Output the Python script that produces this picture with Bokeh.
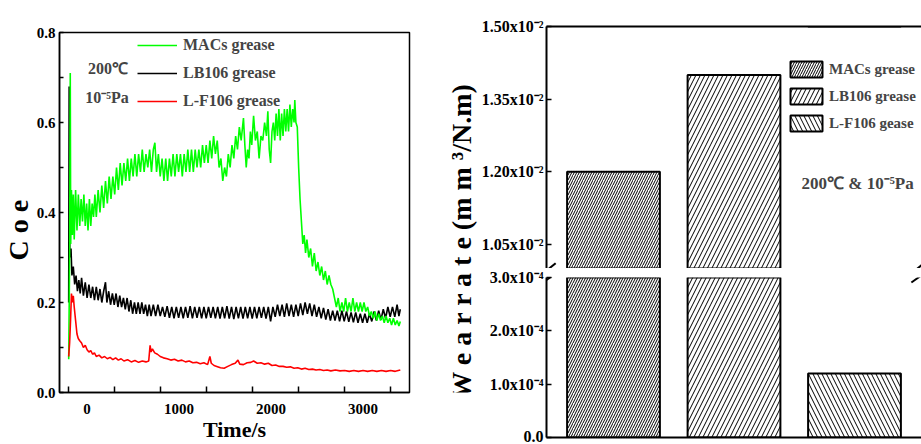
import math
from bokeh.plotting import figure
from bokeh.models import (Range1d, FixedTicker, Label, Arrow, Legend, LegendItem, Title,
                          ColumnDataSource, FactorRange, CategoricalAxis, NumeralTickFormatter)
from bokeh.core.properties import value
from bokeh.layouts import row, column
from bokeh.embed import file_html
from bokeh.resources import INLINE

FONT = "Liberation Serif"

# ---------------- left panel data: friction coefficient vs time ----------------
mac_t = [-200, -190, -183, -178, -170, -160, -150, -140, -125, -110, -95, -80, -65, -50, -35, -20, -5,
         10, 25, 40, 55, 70, 85, 100, 120, 140, 160, 180, 200, 220, 240, 260, 280, 300, 320, 340, 360,
         380, 400, 420, 440, 460, 480, 500, 520, 540, 560, 580, 600, 620, 640, 660, 680, 700, 720, 737,
         755, 775, 795, 815, 835, 855, 875, 895, 915, 935, 955, 975, 995, 1015, 1035, 1055, 1075, 1095,
         1115, 1135, 1155, 1175, 1195, 1215, 1235, 1255, 1275, 1295, 1315, 1335, 1355, 1375, 1395, 1415,
         1435, 1455, 1475, 1495, 1515, 1535, 1555, 1575, 1595, 1615, 1635, 1655, 1675, 1700, 1715, 1730,
         1745, 1760, 1775, 1790, 1810, 1830, 1850, 1870, 1890, 1910, 1930, 1950, 1965, 1980, 1995, 2010,
         2025, 2040, 2055, 2070, 2085, 2100, 2115, 2130, 2145, 2160, 2175, 2190, 2205, 2220, 2235, 2250,
         2258, 2270, 2285, 2300, 2315, 2330, 2345, 2360, 2375, 2390, 2410, 2430, 2450, 2470, 2490, 2510,
         2530, 2550, 2570, 2590, 2610, 2630, 2650, 2670, 2690, 2710, 2730, 2750, 2770, 2790, 2810, 2830,
         2850, 2870, 2890, 2910, 2930, 2950, 2970, 2990, 3010, 3030, 3050, 3070, 3090, 3110, 3130, 3150,
         3170, 3190, 3210, 3230, 3250, 3270, 3290, 3310, 3330, 3350, 3370, 3390, 3405]
mac_v = [0.074, 0.30, 0.71, 0.33, 0.45, 0.35, 0.44, 0.34, 0.45, 0.36, 0.44, 0.37, 0.43, 0.38, 0.44, 0.37, 0.42,
         0.36, 0.43, 0.37, 0.42, 0.39, 0.44, 0.39, 0.45, 0.40, 0.46, 0.41, 0.47, 0.42, 0.48, 0.43, 0.48, 0.44,
         0.50, 0.45, 0.51, 0.46, 0.51, 0.47, 0.52, 0.47, 0.52, 0.48, 0.53, 0.48, 0.53, 0.49, 0.54, 0.49, 0.53,
         0.50, 0.54, 0.49, 0.54, 0.555, 0.49, 0.53, 0.48, 0.52, 0.47, 0.52, 0.47, 0.52, 0.48, 0.53, 0.48, 0.53,
         0.49, 0.53, 0.48, 0.53, 0.49, 0.54, 0.49, 0.54, 0.49, 0.54, 0.50, 0.54, 0.50, 0.55, 0.51, 0.55, 0.51,
         0.56, 0.52, 0.57, 0.53, 0.56, 0.50, 0.52, 0.47, 0.50, 0.48, 0.53, 0.50, 0.55, 0.52, 0.57, 0.54, 0.59,
         0.56, 0.61, 0.55, 0.50, 0.54, 0.52, 0.58, 0.55, 0.615, 0.56, 0.58, 0.52, 0.57, 0.56, 0.60, 0.57, 0.625,
         0.54, 0.51, 0.58, 0.60, 0.56, 0.62, 0.57, 0.63, 0.56, 0.62, 0.57, 0.63, 0.58, 0.63, 0.58, 0.64, 0.59,
         0.63, 0.60, 0.65, 0.60, 0.59, 0.50, 0.43, 0.38, 0.33, 0.35, 0.31, 0.34, 0.30, 0.32, 0.28, 0.31, 0.27,
         0.29, 0.26, 0.28, 0.25, 0.27, 0.24, 0.26, 0.24, 0.23, 0.21, 0.19, 0.21, 0.18, 0.20, 0.18, 0.21, 0.18,
         0.20, 0.18, 0.21, 0.18, 0.20, 0.18, 0.20, 0.18, 0.20, 0.18, 0.19, 0.17, 0.18, 0.165, 0.18, 0.16, 0.175,
         0.16, 0.17, 0.155, 0.17, 0.155, 0.165, 0.15, 0.165, 0.15, 0.16, 0.148, 0.158]

lb_t = [-200, -195, -188, -175, -165, -150, -135, -120, -105, -90, -75, -60, -40, -20, 0, 20, 40, 60, 80,
        100, 120, 140, 160, 180, 200, 215, 235, 255, 275, 295, 315, 335, 355, 375, 395, 415, 435, 455, 475,
        495, 515, 535, 555, 575, 595, 615, 635, 655, 675, 695, 720, 745, 770, 795, 820, 845, 870, 895, 920,
        945, 970, 995, 1020, 1045, 1070, 1095, 1120, 1145, 1170, 1195, 1220, 1245, 1270, 1295, 1320, 1345,
        1370, 1395, 1420, 1445, 1470, 1495, 1520, 1545, 1570, 1595, 1620, 1645, 1670, 1695, 1720, 1745,
        1770, 1795, 1820, 1845, 1870, 1895, 1920, 1945, 1970, 1995, 2020, 2045, 2070, 2095, 2120, 2145,
        2170, 2195, 2220, 2245, 2270, 2295, 2320, 2345, 2370, 2395, 2420, 2445, 2470, 2495, 2520, 2545,
        2570, 2595, 2620, 2645, 2670, 2695, 2720, 2745, 2770, 2795, 2820, 2845, 2870, 2895, 2920, 2945,
        2970, 2995, 3020, 3045, 3070, 3095, 3120, 3145, 3170, 3195, 3220, 3245, 3270, 3295, 3320, 3345,
        3370, 3390, 3405]
lb_v = [0.20, 0.68, 0.30, 0.32, 0.26, 0.28, 0.24, 0.26, 0.225, 0.25, 0.22, 0.255, 0.215, 0.245, 0.21, 0.24,
        0.21, 0.235, 0.205, 0.235, 0.205, 0.23, 0.20, 0.225, 0.245, 0.20, 0.225, 0.195, 0.22, 0.195, 0.22,
        0.19, 0.215, 0.19, 0.21, 0.185, 0.21, 0.18, 0.205, 0.175, 0.20, 0.175, 0.20, 0.175, 0.20, 0.175,
        0.195, 0.17, 0.195, 0.17, 0.195, 0.17, 0.195, 0.17, 0.19, 0.168, 0.192, 0.166, 0.19, 0.165, 0.19,
        0.166, 0.19, 0.165, 0.19, 0.166, 0.192, 0.165, 0.19, 0.166, 0.19, 0.165, 0.19, 0.165, 0.19, 0.166,
        0.19, 0.165, 0.19, 0.164, 0.19, 0.165, 0.192, 0.164, 0.19, 0.163, 0.19, 0.165, 0.19, 0.164, 0.19,
        0.165, 0.19, 0.164, 0.19, 0.165, 0.19, 0.166, 0.19, 0.164, 0.19, 0.158, 0.19, 0.168, 0.195, 0.17,
        0.195, 0.168, 0.198, 0.17, 0.195, 0.168, 0.195, 0.17, 0.198, 0.172, 0.20, 0.175, 0.198, 0.17, 0.195,
        0.168, 0.19, 0.165, 0.188, 0.162, 0.185, 0.16, 0.182, 0.16, 0.182, 0.158, 0.182, 0.158, 0.18, 0.157,
        0.178, 0.156, 0.178, 0.155, 0.175, 0.155, 0.175, 0.155, 0.175, 0.158, 0.18, 0.16, 0.182, 0.162,
        0.185, 0.165, 0.19, 0.168, 0.19, 0.168, 0.195, 0.17, 0.185]

lf_t = [-200, -190, -180, -170, -160, -150, -140, -125, -110, -96, -80, -60, -40, -20, 0, 20, 40, 60, 80,
        100, 130, 160, 190, 220, 250, 280, 310, 340, 370, 400, 440, 480, 520, 560, 600, 640, 670, 685, 695,
        710, 735, 765, 795, 830, 870, 910, 950, 990, 1030, 1070, 1110, 1150, 1190, 1230, 1270, 1310, 1335,
        1350, 1380, 1410, 1450, 1490, 1530, 1570, 1610, 1640, 1660, 1700, 1740, 1780, 1810, 1850, 1890,
        1930, 1970, 2010, 2050, 2090, 2130, 2170, 2210, 2250, 2290, 2330, 2370, 2410, 2450, 2490, 2530,
        2570, 2610, 2650, 2700, 2750, 2800, 2850, 2900, 2950, 3000, 3050, 3100, 3150, 3200, 3250, 3300,
        3350, 3405]
lf_v = [0.08, 0.11, 0.16, 0.22, 0.20, 0.215, 0.19, 0.16, 0.13, 0.12, 0.115, 0.11, 0.10, 0.105, 0.095, 0.09,
        0.093, 0.085, 0.088, 0.08, 0.083, 0.077, 0.08, 0.075, 0.078, 0.073, 0.077, 0.072, 0.075, 0.07, 0.073,
        0.068, 0.071, 0.067, 0.07, 0.068, 0.07, 0.105, 0.09, 0.097, 0.088, 0.085, 0.08, 0.077, 0.075, 0.072,
        0.074, 0.07, 0.072, 0.068, 0.07, 0.066, 0.067, 0.064, 0.066, 0.062, 0.08, 0.065, 0.06, 0.058, 0.055,
        0.054, 0.058, 0.062, 0.065, 0.072, 0.063, 0.062, 0.066, 0.067, 0.07, 0.065, 0.066, 0.063, 0.065,
        0.06, 0.061, 0.058, 0.058, 0.056, 0.057, 0.054, 0.055, 0.052, 0.054, 0.051, 0.052, 0.05, 0.051,
        0.049, 0.05, 0.048, 0.05, 0.048, 0.049, 0.047, 0.049, 0.047, 0.049, 0.047, 0.049, 0.047, 0.049,
        0.047, 0.049, 0.047, 0.05]

x_tick_values = [0, 1000, 2000, 3000]
x_minor_ticks = [-200, 300, 800, 1300, 1800, 2300, 2800, 3300]
y_tick_values = [0.0, 0.2, 0.4, 0.6, 0.8]
y_minor_ticks = [0.1, 0.3, 0.5, 0.7]

# ---------------- right panel data: wear rate ----------------
greases = ["MACs grease", "LB106 grease", "L-F106 gease"]
wear_rate = [1.20e-2, 1.40e-2, 1.2e-4]
upper_ticks = [0.0105, 0.012, 0.0135, 0.015]
upper_tick_labels = ["1.05x10\u207b\u00b2", "1.20x10\u207b\u00b2", "1.35x10\u207b\u00b2", "1.50x10\u207b\u00b2"]
lower_ticks = [0.0, 0.0001, 0.0002, 0.0003]
lower_tick_labels = ["0.0", "1.0x10\u207b\u2074", "2.0x10\u207b\u2074", "3.0x10\u207b\u2074"]
wear_title = "W e a r  r a t e (m m \u00b3/N.m)"

# styles (kept apart from the data)
hatch_patterns = ["/", "/", "\\"]
hatch_scales = [5, 9, 9]


def style_text_axis(ax, size="15px"):
    ax.major_label_text_font = FONT
    ax.major_label_text_font_style = "bold"
    ax.major_label_text_font_size = size
    ax.major_label_text_color = "black"
    ax.axis_label_text_font = FONT
    ax.axis_label_text_font_style = "bold"
    ax.axis_label_text_color = "black"


# ================= left figure =================
left = figure(width=436, height=444, x_range=Range1d(-300, 3505), y_range=Range1d(0, 0.8),
              output_backend="svg", toolbar_location=None,
              min_border_left=59, min_border_right=27, min_border_top=32, min_border_bottom=52)
left.xgrid.visible = False
left.ygrid.visible = False
left.outline_line_color = "black"
left.outline_line_width = 1.5
left.background_fill_color = "white"
left.border_fill_color = "white"

rb = left.line(lb_t, lb_v, line_color="black", line_width=1.6)
rg = left.line(mac_t, mac_v, line_color="#00ff00", line_width=1.6)
rr = left.line(lf_t, lf_v, line_color="#ff0000", line_width=1.6)

xa = left.xaxis[0]
xa.ticker = FixedTicker(ticks=x_tick_values, minor_ticks=x_minor_ticks)
xa.major_tick_in = 0
xa.major_tick_out = 0
xa.minor_tick_in = 6
xa.minor_tick_out = 0
xa.minor_tick_line_width = 1.5
xa.axis_line_width = 1.5
xa.major_label_standoff = 11
xa.axis_label = "Time/s"
xa.axis_label_standoff = 0
style_text_axis(xa)
xa.axis_label_text_font_size = "22px"

ya = left.yaxis[0]
ya.ticker = FixedTicker(ticks=y_tick_values, minor_ticks=y_minor_ticks)
ya.formatter = NumeralTickFormatter(format="0.0")
ya.major_tick_in = 4
ya.major_tick_out = 0
ya.minor_tick_in = 4
ya.minor_tick_out = 0
ya.major_tick_line_width = 1.5
ya.minor_tick_line_width = 1.5
ya.axis_line_width = 1.5
ya.major_label_standoff = 4
style_text_axis(ya)

left.add_layout(Title(text="C o e", align="left", offset=132, standoff=0, text_font=FONT,
                      text_font_style="bold", text_font_size="28px", text_color="black"), "left")

left_legend = Legend(items=[LegendItem(label="MACs grease", renderers=[rg]),
                            LegendItem(label="LB106 grease", renderers=[rb]),
                            LegendItem(label="L-F106 grease", renderers=[rr])],
                     location=(78, 281), glyph_width=40, glyph_height=20, label_height=20,
                     label_standoff=6, spacing=8, padding=0, margin=0,
                     border_line_alpha=0, background_fill_alpha=0,
                     label_text_font=FONT, label_text_font_style="bold", label_text_font_size="16px")
left.add_layout(left_legend)

left.add_layout(Label(x=227, y=0.721, text="200\u2103", text_align="center", text_baseline="middle",
                      text_font=FONT, text_font_style="bold", text_font_size="16px"))
left.add_layout(Label(x=216, y=0.656, text="10\u207b\u2075Pa", text_align="center", text_baseline="middle",
                      text_font=FONT, text_font_style="bold", text_font_size="16px"))

# ================= strip holding the right panel's y-axis title =================
title_strip = figure(width=42, height=444, x_range=Range1d(0, 1), y_range=Range1d(0, 444),
                     output_backend="svg", toolbar_location=None, x_axis_location=None,
                     y_axis_location=None, min_border=0)
title_strip.outline_line_color = None
title_strip.xgrid.visible = False
title_strip.ygrid.visible = False
title_strip.text(x=[0.6], y=[191], text=[wear_title], angle=math.pi / 2, text_align="center",
                 text_baseline="alphabetic", text_font=value(FONT), text_font_style="bold",
                 text_font_size="28px", text_color="black")

# ================= right panel (broken y axis: two stacked frames) =================
full_src = ColumnDataSource(dict(grease=greases, rate=wear_rate, pattern=hatch_patterns, scale=hatch_scales))


def bar_fig(height, yr, top, bottom):
    f = figure(width=443, height=height, x_range=FactorRange(*greases, range_padding=0.056,
                                                              range_padding_units="absolute"),
               y_range=yr, output_backend="svg", toolbar_location=None, x_axis_location=None,
               min_border_left=64, min_border_right=0, min_border_top=top, min_border_bottom=bottom)
    f.xgrid.visible = False
    f.ygrid.visible = False
    f.outline_line_color = None
    f.background_fill_color = "white"
    f.border_fill_color = "white"
    ax = f.yaxis[0]
    ax.major_tick_in = 5
    ax.major_tick_out = 0
    ax.minor_tick_in = 0
    ax.minor_tick_out = 0
    ax.major_tick_line_width = 1.5
    ax.axis_line_width = 2
    ax.major_label_standoff = 3
    style_text_axis(ax, "16px")
    return f


def line_axis():
    return CategoricalAxis(ticker=FixedTicker(ticks=[]), axis_line_width=2, major_tick_in=0,
                           major_tick_out=0, minor_tick_in=0, minor_tick_out=0, major_label_standoff=0)


upper = bar_fig(268, Range1d(0.0100, 0.0150), 26, 0)
lower = bar_fig(176, Range1d(0.0, 0.0003), 9, 7)
upper.add_layout(line_axis(), "above")
lower.add_layout(line_axis(), "below")
# range far away from the data, used only so that the small bar gets its legend swatch in the upper part
upper.extra_y_ranges = {"offscale": Range1d(-2, -1)}

upper.yaxis[0].ticker = FixedTicker(ticks=upper_ticks)
upper.yaxis[0].major_label_overrides = dict(zip(upper_ticks, upper_tick_labels))
lower.yaxis[0].ticker = FixedTicker(ticks=lower_ticks)
lower.yaxis[0].major_label_overrides = dict(zip(lower_ticks, lower_tick_labels))

bar_style = dict(bottom=0, width=0.77, fill_color="white", line_color="black", line_width=2,
                 hatch_color="black", hatch_weight=1)

lower.vbar(x="grease", top="rate", source=full_src, hatch_pattern="pattern", hatch_scale="scale", **bar_style)

upper_items = []
for i in range(len(greases)):
    src = ColumnDataSource(dict(grease=[greases[i]], rate=[wear_rate[i]]))
    extra = {"y_range_name": "offscale"} if wear_rate[i] < upper.y_range.start else {}
    r = upper.vbar(x="grease", top="rate", source=src, hatch_pattern=hatch_patterns[i],
                   hatch_scale=hatch_scales[i], **bar_style, **extra)
    upper_items.append(LegendItem(label=greases[i], renderers=[r]))

lg = Legend(items=upper_items, location=(240, 135), glyph_width=40, glyph_height=20, label_height=20,
            label_standoff=3, spacing=7, padding=0, margin=0, border_line_alpha=0,
            background_fill_alpha=0, label_text_font=FONT, label_text_font_style="bold",
            label_text_font_size="15px")
upper.add_layout(lg)

upper.add_layout(Label(x=2.061, y=0.011756, text="200\u2103 & 10\u207b\u2075Pa", text_align="left",
                       text_baseline="middle", text_font=FONT, text_font_style="bold",
                       text_font_size="17px"))

# axis-break marks (the first one is split across the two stacked canvases)
for xl, xr in ((-0.085, 0.020), (2.972, 3.077)):
    upper.add_layout(Arrow(end=None, x_start=xl, y_start=0.009897, x_end=xr, y_end=0.010110,
                           line_color="black", line_width=2))
    lower.add_layout(Arrow(end=None, x_start=xl, y_start=0.0003075, x_end=xr, y_end=0.0003268,
                           line_color="black", line_width=2))
    lower.add_layout(Arrow(end=None, x_start=xl, y_start=0.0002906, x_end=xr, y_end=0.0003075,
                           line_color="black", line_width=2))

layout = row(left, title_strip, column(upper, lower, spacing=0), spacing=0)

open("out.html", "w").write(file_html(layout, INLINE))
